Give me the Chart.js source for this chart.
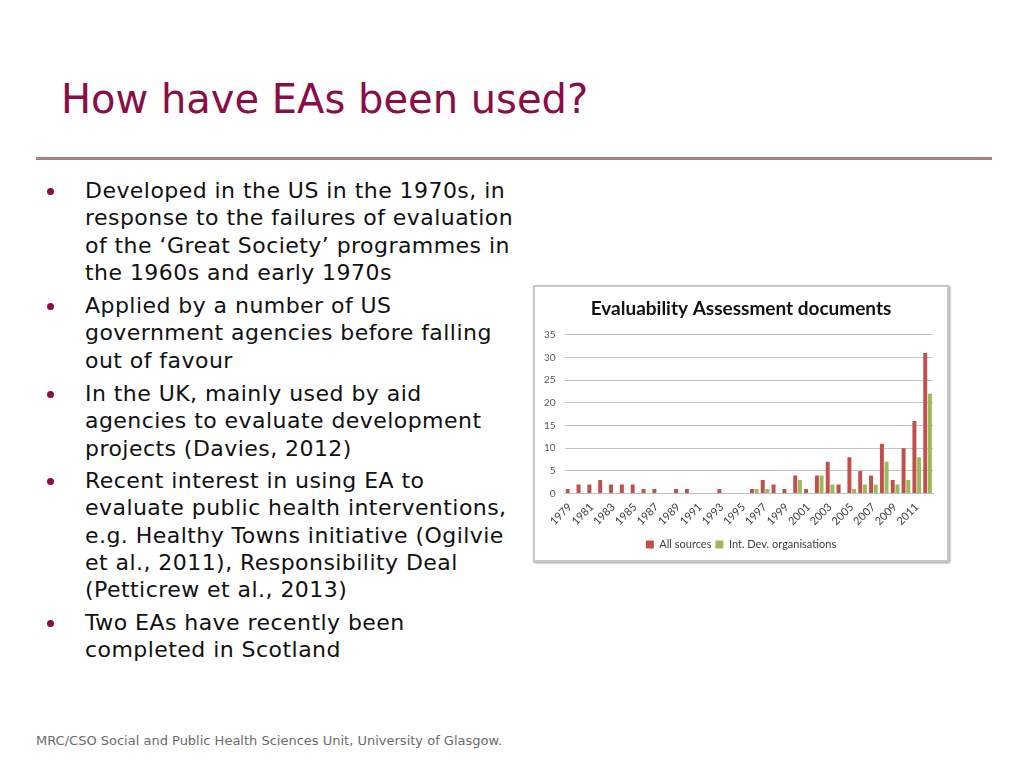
<!DOCTYPE html>
<html>
<head>
<meta charset="utf-8">
<script src="https://cdn.jsdelivr.net/npm/chart.js@4/dist/chart.umd.min.js"></script>
<style>
  html, body { margin:0; padding:0; background:#fff; }
  body { width:1024px; height:768px; position:relative; overflow:hidden; font-family:"DejaVu Sans", Verdana, sans-serif; }
  #title { position:absolute; left:61px; top:74px; font-size:40px; color:#8C0C46; white-space:nowrap; line-height:50px; }
  #rule { position:absolute; left:36px; top:157px; width:956px; height:3px; background:#A88080; }
  .para { position:absolute; left:85px; font-size:22px; letter-spacing:0.45px; line-height:27.3px; color:#111; white-space:nowrap; }
  .dot { position:absolute; left:47px; width:7px; height:7px; border-radius:50%; background:#8C0C46; }
  #footer { position:absolute; left:36px; top:733px; font-size:13px; color:#6b6b6b; white-space:nowrap; }
  #box { position:absolute; left:533px; top:285px; width:412px; height:273px; border:2px solid #C8C8C8; box-shadow:1px 1px 2px #9a9a9a; background:#fff; }
  #wrap { position:absolute; left:0; top:0; width:412px; height:273px; }
</style>
</head>
<body>
<div id="title">How have EAs been used?</div>
<div id="rule"></div>

<div class="dot" style="top:188px"></div>
<div class="para" style="top:177px">Developed in the US in the 1970s, in<br>response to the failures of evaluation<br>of the ‘Great Society’ programmes in<br>the 1960s and early 1970s</div>
<div class="dot" style="top:303px"></div>
<div class="para" style="top:292px">Applied by a number of US<br>government agencies before falling<br>out of favour</div>
<div class="dot" style="top:391px"></div>
<div class="para" style="top:380px">In the UK, mainly used by aid<br>agencies to evaluate development<br>projects (Davies, 2012)</div>
<div class="dot" style="top:478px"></div>
<div class="para" style="top:467px">Recent interest in using EA to<br>evaluate public health interventions,<br>e.g. Healthy Towns initiative (Ogilvie<br>et al., 2011), Responsibility Deal<br>(Petticrew et al., 2013)</div>
<div class="dot" style="top:620px"></div>
<div class="para" style="top:609px">Two EAs have recently been<br>completed in Scotland</div>

<div id="footer">MRC/CSO Social and Public Health Sciences Unit, University of Glasgow.</div>

<div id="box"><div id="wrap"><canvas id="c" width="412" height="273"></canvas></div></div>

<script>
const years = ['1979','1980','1981','1982','1983','1984','1985','1986','1987','1988','1989','1990','1991','1992','1993','1994','1995','1996','1997','1998','1999','2000','2001','2002','2003','2004','2005','2006','2007','2008','2009','2010','2011','2012'];
const allSources = [1,2,2,3,2,2,2,1,1,0,1,1,0,0,1,0,0,1,3,2,1,4,1,4,7,2,8,5,4,11,3,10,16,31];
const intDevOrgs = [0,0,0,0,0,0,0,0,0,0,0,0,0,0,0,0,0,1,1,0,0,3,0,4,2,0,1,2,2,7,2,3,8,22];
const seriesNames = ['All sources','Int. Dev. organisations'];
const chartTitle = 'Evaluability Assessment documents';
const yMin = 0, yMax = 35, yStep = 5;

const chartFont = 'Lato, "Open Sans", sans-serif';
new Chart(document.getElementById('c'), {
  type: 'bar',
  data: {
    labels: years,
    datasets: [
      { label: seriesNames[0], data: allSources, backgroundColor: '#C0504D', categoryPercentage: 0.86, barPercentage: 0.85 },
      { label: seriesNames[1], data: intDevOrgs, backgroundColor: '#9BBB59', categoryPercentage: 0.86, barPercentage: 0.85 }
    ]
  },
  options: {
    responsive: false,
    animation: false,
    layout: { padding: { left: 0, right: 0, top: 0, bottom: 0 } },
    plugins: {
      title: { display: true, text: chartTitle, color: '#111', font: { family: chartFont, weight: 'bold', size: 19 }, padding: { top: 10, bottom: 15 } },
      legend: { position: 'bottom', labels: { boxWidth: 8, boxHeight: 8, color: '#404040', font: { family: chartFont, size: 11 }, padding: 4 } },
      tooltip: { enabled: false }
    },
    scales: {
      x: {
        grid: { display: false, drawTicks: false },
        border: { display: true, color: '#BFBFBF' },
        ticks: { autoSkip: false, maxRotation: 45, minRotation: 45, padding: 7, color: '#404040', font: { family: chartFont, size: 11 },
                 callback: (v, i) => (i % 2 === 0 ? years[i] : null) }
      },
      y: {
        min: yMin, max: yMax,
        ticks: { stepSize: yStep, padding: 9, color: '#595959', font: { family: chartFont, size: 10 } },
        grid: { color: '#C4C4C4', drawTicks: false },
        border: { display: false }
      },
      rightSpacer: {
        type: 'linear', position: 'right', min: yMin, max: yMax,
        grid: { display: false, drawTicks: false },
        border: { display: false },
        ticks: { display: false },
        afterFit: (s) => { s.width = 14; }
      }
    }
  }
});
</script>
</body>
</html>
